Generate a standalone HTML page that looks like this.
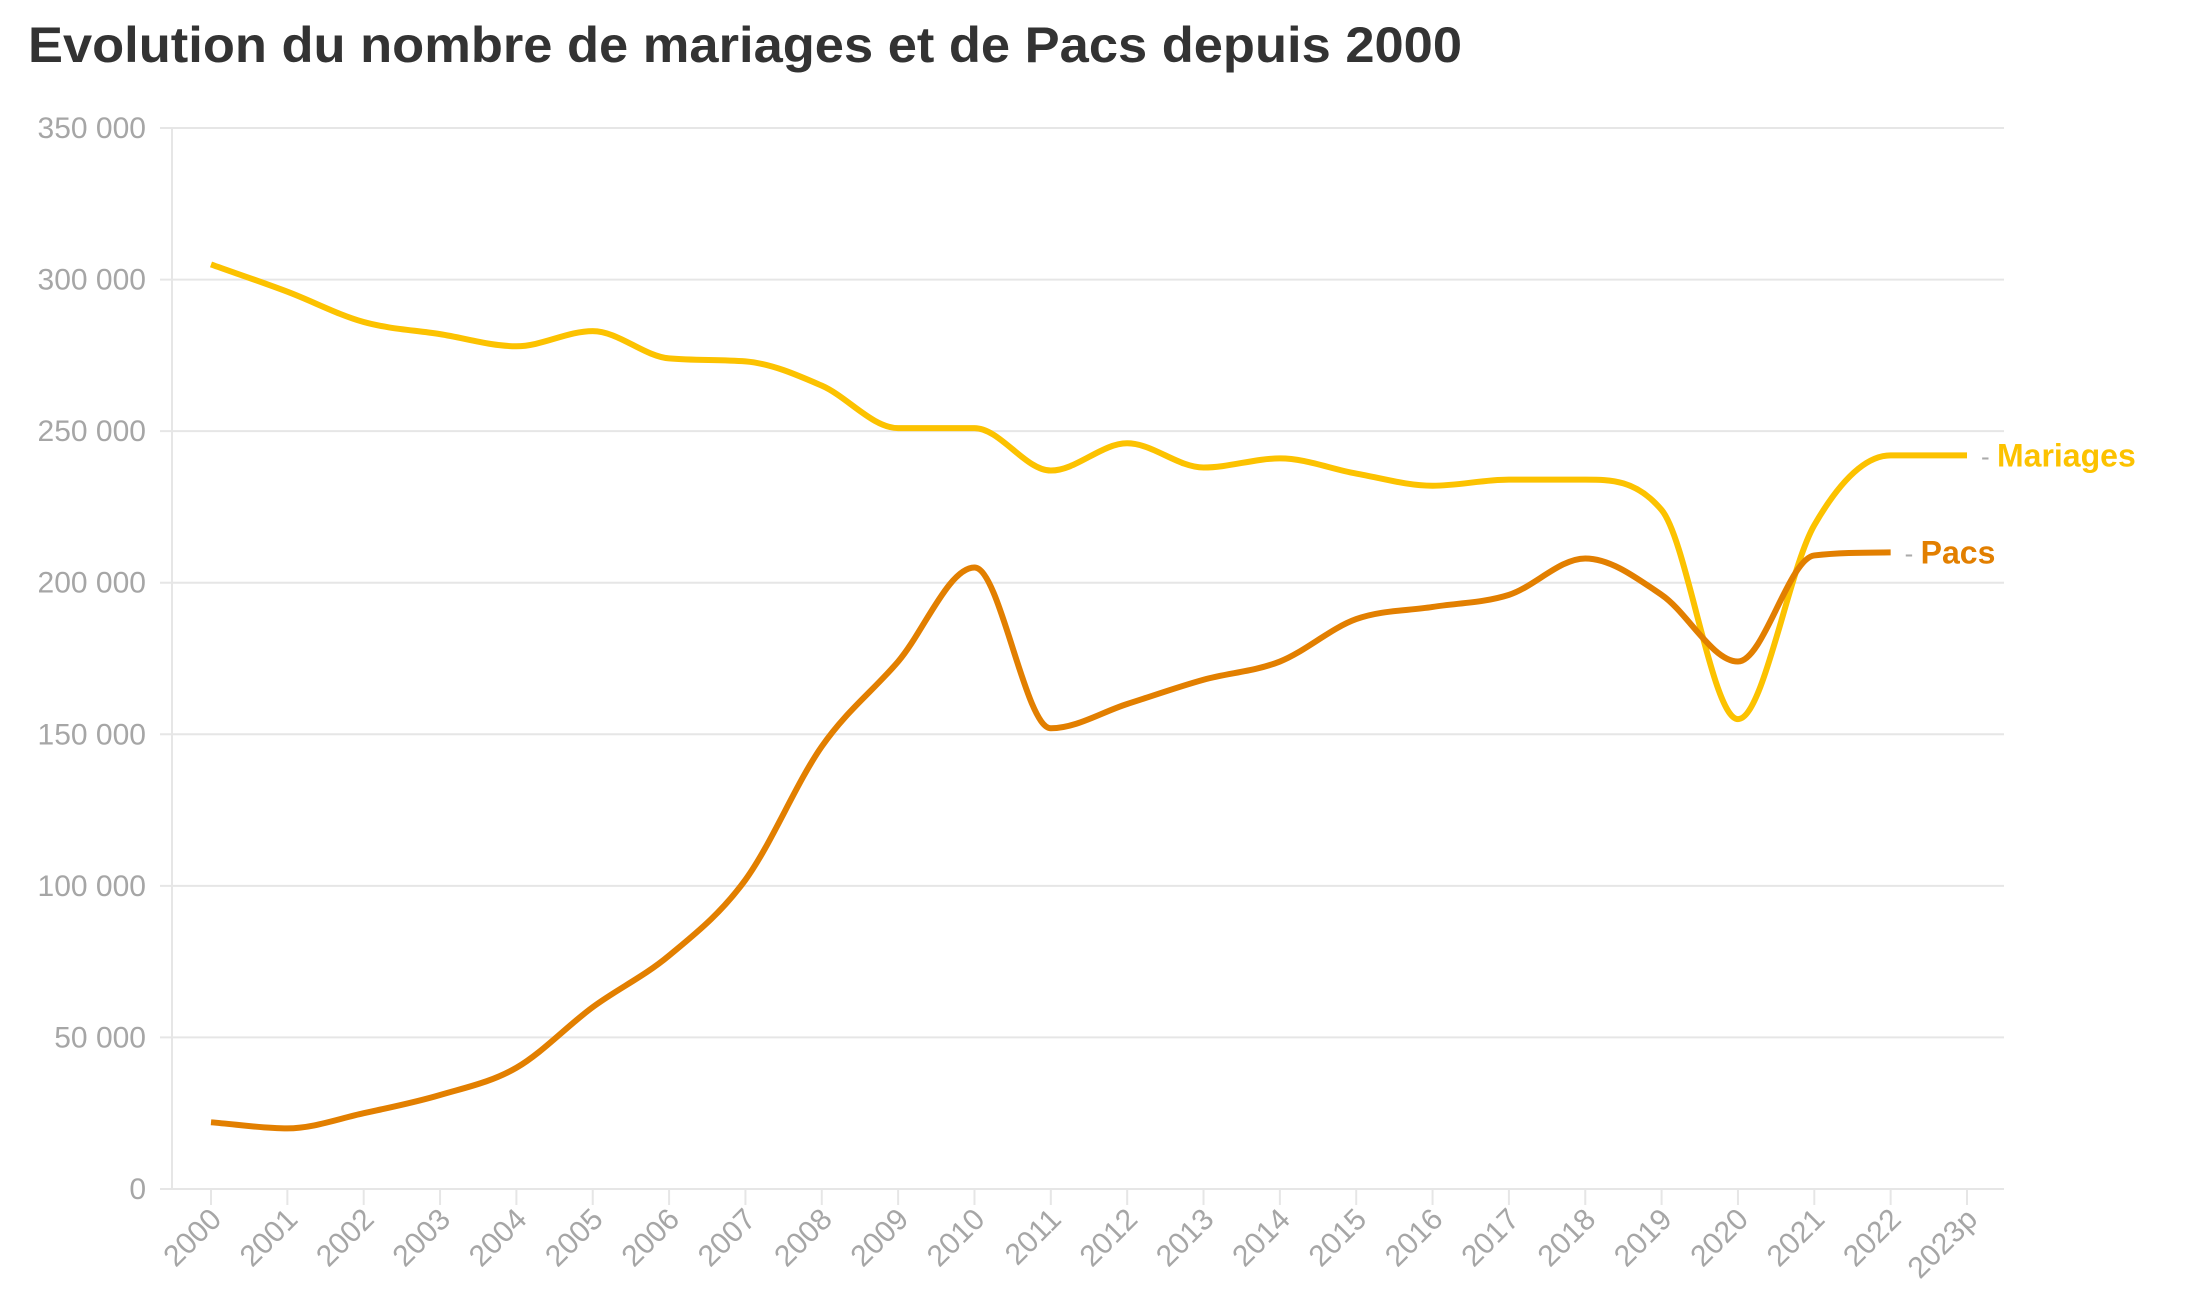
<!DOCTYPE html>
<html><head><meta charset="utf-8"><style>
html,body{margin:0;padding:0;background:#fff;}
svg{display:block;font-family:"Liberation Sans",sans-serif;}
</style></head><body>
<svg id="chart" width="2200" height="1306" viewBox="0 0 2200 1306">
<text x="28" y="62" font-size="50" font-weight="bold" fill="#333" textLength="1434" lengthAdjust="spacingAndGlyphs">Evolution du nombre de mariages et de Pacs depuis 2000</text>
<g id="grid"></g><g id="axes"></g><g id="series"></g>
</svg>
<script>
const years = ["2000","2001","2002","2003","2004","2005","2006","2007","2008","2009","2010","2011","2012","2013","2014","2015","2016","2017","2018","2019","2020","2021","2022","2023p"];
const mariages = [305000,296000,286000,282000,278000,283000,274000,273000,265000,251000,251000,237000,246000,238000,241000,236000,232000,234000,234000,224000,155000,219000,242000,242000];
const pacs = [22000,20000,25000,31000,40000,60000,77000,102000,146000,174000,205000,152000,160000,168000,174000,188000,192000,196000,208000,196000,174000,209000,210000];
const yTicks = [0,50000,100000,150000,200000,250000,300000,350000];
const yTickLabels = ["0","50 000","100 000","150 000","200 000","250 000","300 000","350 000"];

const NS="http://www.w3.org/2000/svg";
const X0=211,X1=1967,Y0=1189,Y1=128,YMAX=350000,LEFT=172,RIGHT=2004;
const x=i=>X0+(X1-X0)*i/(years.length-1);
const y=v=>Y0-(Y0-Y1)*v/YMAX;
function mk(tag,attrs,parent){const e=document.createElementNS(NS,tag);for(const k in attrs)e.setAttribute(k,attrs[k]);parent.appendChild(e);return e;}
const grid=document.getElementById('grid'),axes=document.getElementById('axes'),series=document.getElementById('series');

yTicks.forEach((v,i)=>{
  const l=mk('line',{x1:LEFT-12,x2:RIGHT,y1:y(v),y2:y(v),stroke:'#e6e6e6','stroke-width':2},grid);
  
  
  const t=mk('text',{x:146,y:y(v)+10,'text-anchor':'end','font-size':30,fill:'#a6a6a6'},axes);
  t.textContent=yTickLabels[i];
  
  
});
const ax=mk('line',{x1:LEFT,x2:LEFT,y1:Y1,y2:Y0,stroke:'#e6e6e6','stroke-width':2},axes);


years.forEach((yr,i)=>{
  const tk=mk('line',{x1:x(i),x2:x(i),y1:Y0,y2:Y0+16,stroke:'#e6e6e6','stroke-width':2},axes);
  
  
  const t=mk('text',{x:x(i)+12,y:Y0+32,'text-anchor':'end','font-size':30,fill:'#a6a6a6',transform:`rotate(-45 ${x(i)+12} ${Y0+32})`},axes);
  t.textContent=yr;
  
  
});

function monotonePath(vals){
  const pts=vals.map((v,i)=>[x(i),y(v)]);const n=pts.length;
  const d=[],m=new Array(n);
  for(let i=0;i<n-1;i++)d.push((pts[i+1][1]-pts[i][1])/(pts[i+1][0]-pts[i][0]));
  m[0]=d[0];m[n-1]=d[n-2];
  for(let i=1;i<n-1;i++){m[i]=(d[i-1]*d[i]<=0)?0:(d[i-1]+d[i])/2;}
  for(let i=0;i<n-1;i++){if(d[i]===0){m[i]=0;m[i+1]=0;continue;}
    const a=m[i]/d[i],b=m[i+1]/d[i],s=a*a+b*b;if(s>9){const t=3/Math.sqrt(s);m[i]=t*a*d[i];m[i+1]=t*b*d[i];}}
  let p=`M${pts[0][0]},${pts[0][1]}`;
  for(let i=0;i<n-1;i++){const h=(pts[i+1][0]-pts[i][0])/3;
    p+=` C${pts[i][0]+h},${pts[i][1]+m[i]*h} ${pts[i+1][0]-h},${pts[i+1][1]-m[i+1]*h} ${pts[i+1][0]},${pts[i+1][1]}`;}
  return p;
}
function drawSeries(vals,color,name,label){
  const p=mk('path',{d:monotonePath(vals),fill:'none',stroke:color,'stroke-width':6,'stroke-linejoin':'round'},series);
  
  
  const li=vals.length-1,lx=x(li),ly=y(vals[li]);
  const dash=mk('text',{x:lx+14,y:ly+10,'font-size':26,fill:'#aaa'},series);
  dash.textContent='-';
  
  
  const t=mk('text',{x:lx+30,y:ly+11,'font-size':32,'font-weight':'bold',fill:color},series);
  t.textContent=label;
  
  
}
drawSeries(mariages,'#fcc200','mariages','Mariages');
drawSeries(pacs,'#e27f00','pacs','Pacs');
</script>
</body></html>
